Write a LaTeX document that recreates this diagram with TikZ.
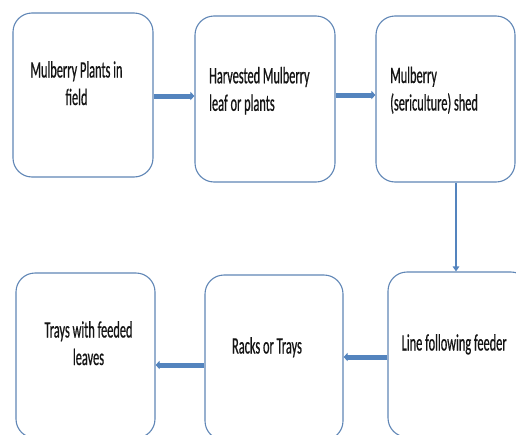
\documentclass[tikz,border=0pt]{standalone}
\usepackage{fontspec}
\usetikzlibrary{arrows.meta}
\newfontfamily\boxfont[FakeStretch=0.525,FakeBold=0.6]{Carlito}
\definecolor{boxline}{RGB}{96,134,182}
\definecolor{arrowblue}{RGB}{84,132,190}
\definecolor{txt}{RGB}{20,20,20}
\tikzset{
  flowbox/.style={draw=boxline, line width=1.1pt, rounded corners=19pt, fill=white, inner sep=0pt},
  lbl/.style={inner sep=0pt, text=txt, font=\boxfont\fontsize{23.5}{27.5}\selectfont},
  thickarrow/.style={draw=arrowblue, line width=5pt, -{Triangle[length=4pt,width=8pt]}},
  thinarrow/.style={draw=arrowblue, line width=2.6pt, -{Triangle[length=5pt,width=6.5pt]}}
}
\begin{document}
\begin{tikzpicture}[x=1pt,y=-1pt]
\useasboundingbox (0,0) rectangle (516,434);
\clip (0,0) rectangle (516,434);
\fill[white] (0,0) rectangle (516,434);
% top row
\node[flowbox, minimum width=140pt, minimum height=164pt] (b1) at (83,95) {};
\node[flowbox, minimum width=140pt, minimum height=166pt] (b2) at (265,99) {};
\node[flowbox, minimum width=139pt, minimum height=166pt] (b3) at (445.5,99) {};
% bottom row
\node[flowbox, minimum width=139pt, minimum height=165pt] (b4) at (85.5,355.5) {};
\node[flowbox, minimum width=138pt, minimum height=165pt] (b5) at (274,357.5) {};
\node[flowbox, minimum width=142pt, minimum height=165pt] (b6) at (459,354.5) {};
% texts
\node[lbl, anchor=base] (t1) at (76.5,77.5) {\parbox[t]{130pt}{\centering Mulberry Plants in \\ field}};
\node[lbl, anchor=base west] (t2) at (209,83.3) {\parbox[t]{125pt}{\raggedright Harvested Mulberry\\ leaf or plants}};
\node[lbl, anchor=base west] (t3) at (390,83) {\parbox[t]{120pt}{\raggedright Mulberry\\ (sericulture) shed}};
\node[lbl, anchor=base] (t4) at (88.5,337.5) {\parbox[t]{130pt}{\centering Trays with feeded\\ leaves}};
\node[lbl, anchor=base] (t5) at (267,353.5) {Racks or Trays};
\node[lbl, anchor=base west] (t6) at (401.5,350.5) {Line following feeder};
% connectors
\draw[thickarrow] ([yshift=-1pt]b1.east) -- ([yshift=-1pt]b1.east -| b2.west);
\draw[thickarrow] ([yshift=4pt]b2.east) -- ([yshift=4pt]b2.east -| b3.west);
\draw[thinarrow] ([xshift=-3pt]b6.north |- b3.south) -- ([xshift=-3pt]b6.north);
\draw[thickarrow] ([yshift=-2.5pt]b6.west) -- ([yshift=-2.5pt]b6.west -| b5.east);
\draw[thickarrow] ([yshift=-7.5pt]b5.west) -- ([yshift=-7.5pt]b5.west -| b4.east);
\end{tikzpicture}
\end{document}
